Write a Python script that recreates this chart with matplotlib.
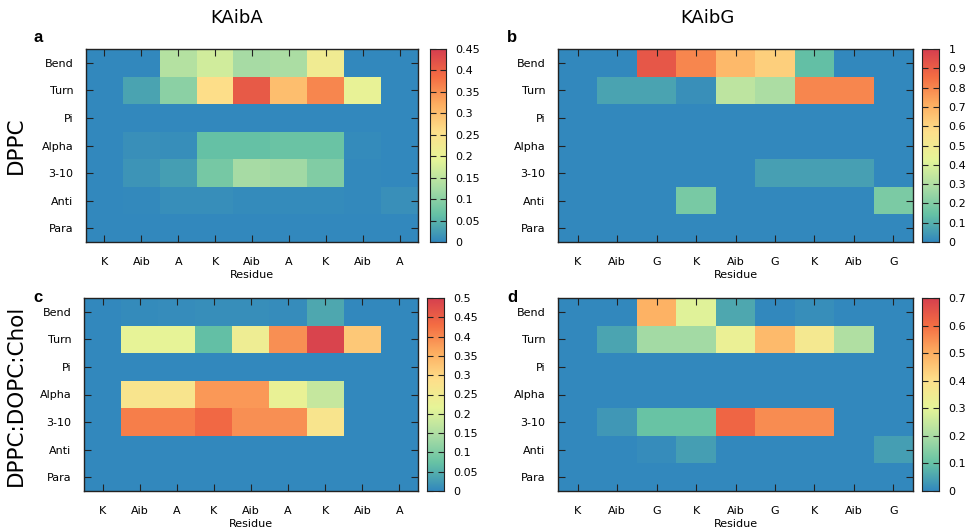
import numpy as np
import matplotlib
matplotlib.use("Agg")
import matplotlib.pyplot as plt
from matplotlib.colors import LinearSegmentedColormap

plt.rcParams["font.family"] = ["DejaVu Sans"]

# ── Data ──────────────────────────────────────────────────────────────────────
states = ["Bend", "Turn", "Pi", "Alpha", "3-10", "Anti", "Para"]
res_kaiba = ["K", "Aib", "A", "K", "Aib", "A", "K", "Aib", "A"]
res_kaibg = ["K", "Aib", "G", "K", "Aib", "G", "K", "Aib", "G"]

# a: KAibA in DPPC
dppc_kaiba = [
    [0.0, 0.0, 0.14, 0.17, 0.125, 0.13, 0.22, 0.0, 0.0],
    [0.0, 0.03, 0.10, 0.26, 0.41, 0.30, 0.36, 0.20, 0.0],
    [0.0, 0.0, 0.0, 0.0, 0.0, 0.0, 0.0, 0.0, 0.0],
    [0.0, 0.01, 0.008, 0.065, 0.065, 0.07, 0.07, 0.005, 0.0],
    [0.0, 0.015, 0.025, 0.08, 0.125, 0.12, 0.09, 0.003, 0.0],
    [0.0, 0.002, 0.008, 0.008, 0.005, 0.005, 0.005, 0.002, 0.01],
    [0.0, 0.0, 0.0, 0.0, 0.0, 0.0, 0.0, 0.0, 0.0],
]
# b: KAibG in DPPC
dppc_kaibg = [
    [0.0, 0.0, 0.92, 0.80, 0.68, 0.62, 0.14, 0.0, 0.0],
    [0.0, 0.07, 0.07, 0.02, 0.33, 0.29, 0.80, 0.80, 0.0],
    [0.0, 0.0, 0.0, 0.0, 0.0, 0.0, 0.0, 0.0, 0.0],
    [0.0, 0.0, 0.0, 0.0, 0.0, 0.0, 0.0, 0.0, 0.0],
    [0.0, 0.0, 0.0, 0.0, 0.0, 0.06, 0.06, 0.06, 0.0],
    [0.0, 0.0, 0.0, 0.18, 0.0, 0.0, 0.0, 0.0, 0.19],
    [0.0, 0.0, 0.0, 0.0, 0.0, 0.0, 0.0, 0.0, 0.0],
]
# c: KAibA in DPPC:DOPC:Chol
mix_kaiba = [
    [0.0, 0.004, 0.006, 0.008, 0.008, 0.006, 0.04, 0.0, 0.0],
    [0.0, 0.22, 0.22, 0.07, 0.24, 0.39, 0.49, 0.32, 0.0],
    [0.0, 0.0, 0.0, 0.0, 0.0, 0.0, 0.0, 0.0, 0.0],
    [0.0, 0.27, 0.27, 0.38, 0.38, 0.225, 0.175, 0.0, 0.0],
    [0.0, 0.41, 0.41, 0.435, 0.39, 0.39, 0.27, 0.0, 0.0],
    [0.0, 0.0, 0.0, 0.0, 0.0, 0.0, 0.0, 0.0, 0.0],
    [0.0, 0.0, 0.0, 0.0, 0.0, 0.0, 0.0, 0.0, 0.0],
]
# d: KAibG in DPPC:DOPC:Chol
mix_kaibg = [
    [0.0, 0.0, 0.49, 0.29, 0.055, 0.0, 0.012, 0.0, 0.0],
    [0.0, 0.05, 0.19, 0.19, 0.32, 0.475, 0.36, 0.21, 0.0],
    [0.0, 0.0, 0.0, 0.0, 0.0, 0.0, 0.0, 0.0, 0.0],
    [0.0, 0.0, 0.0, 0.0, 0.0, 0.0, 0.0, 0.0, 0.0],
    [0.0, 0.03, 0.105, 0.105, 0.615, 0.55, 0.55, 0.0, 0.0],
    [0.0, 0.0, 0.01, 0.04, 0.0, 0.0, 0.0, 0.0, 0.04],
    [0.0, 0.0, 0.0, 0.0, 0.0, 0.0, 0.0, 0.0, 0.0],
]

cbar_max = {"a": 0.45, "b": 1.0, "c": 0.5, "d": 0.7}
cbar_step = {"a": 0.05, "b": 0.1, "c": 0.05, "d": 0.1}

# gnuplot-style spectral palette
cmap = LinearSegmentedColormap.from_list(
    "spec", ["#3288BD", "#66C2A5", "#ABDDA4", "#E6F598",
             "#FEE08B", "#FDAE61", "#F46D43", "#D53E4F"])

W, H = 967, 531
fig = plt.figure(figsize=(W / 100, H / 100), dpi=100)


def px_axes(x0, y0, x1, y1):
    return fig.add_axes([x0 / W, 1 - y1 / H, (x1 - x0) / W, (y1 - y0) / H])


def fmt(v):
    s = f"{v:.2f}".rstrip("0").rstrip(".")
    return s


def panel(key, data, residues, box, cbox):
    ax = px_axes(*box)
    arr = np.array(data)
    ax.imshow(arr, cmap=cmap, vmin=0, vmax=cbar_max[key], aspect="auto",
              interpolation="nearest",
              extent=(0.5, len(residues) + 0.5, len(states) - 0.5, -0.5))
    ax.set_xticks(np.arange(1, len(residues) + 1))
    ax.set_xticklabels(residues, fontsize=8)
    ax.set_yticks(np.arange(len(states)))
    ax.set_yticklabels(states, fontsize=8)
    ax.tick_params(direction="in", length=5, width=0.8, top=True, right=True,
                   color="#222222")
    ax.tick_params(axis="x", pad=11)
    ax.tick_params(axis="y", pad=9)
    for s in ax.spines.values():
        s.set_linewidth(1.0)
        s.set_color("#222222")
    ax.set_xlabel("Residue", fontsize=8, labelpad=2)

    cax = px_axes(*cbox)
    grad = np.linspace(0, cbar_max[key], 256).reshape(-1, 1)
    cax.imshow(grad, cmap=cmap, vmin=0, vmax=cbar_max[key], aspect="auto",
               origin="lower", extent=(0, 1, 0, cbar_max[key]))
    ticks = np.round(np.arange(0, cbar_max[key] + 1e-9, cbar_step[key]), 3)
    cax.set_yticks(ticks)
    cax.set_yticklabels([fmt(t) for t in ticks], fontsize=8)
    cax.set_xticks([])
    cax.yaxis.tick_right()
    cax.tick_params(axis="y", direction="in", length=4, width=0.8,
                    left=True, right=True, pad=7, color="#222222")
    for s in cax.spines.values():
        s.set_linewidth(0.8)
        s.set_color("#222222")
    return ax


panel("a", dppc_kaiba, res_kaiba, (86, 49, 418, 242), (430, 49, 446, 242))
panel("b", dppc_kaibg, res_kaibg, (558, 49, 913, 242), (922, 49, 939, 242))
panel("c", mix_kaiba, res_kaiba, (84, 298, 418, 491), (427, 298, 444, 491))
panel("d", mix_kaibg, res_kaibg, (558, 298, 913, 491), (922, 298, 939, 491))

# titles and panel letters
fig.text(237 / W, 1 - 18 / H, "KAibA", fontsize=13, ha="center", va="center")
fig.text(707 / W, 1 - 18 / H, "KAibG", fontsize=13, ha="center", va="center")
for letter, (x, y) in {"a": (38, 38), "b": (512, 38),
                       "c": (38, 297), "d": (512, 297)}.items():
    fig.text(x / W, 1 - y / H, letter, fontsize=12, fontweight="bold",
             ha="center", va="center", family="Liberation Sans")
fig.text(16 / W, 1 - 145 / H, "DPPC", fontsize=15.5, rotation=90,
         ha="center", va="center")
fig.text(16 / W, 1 - 395 / H, "DPPC:DOPC:Chol", fontsize=15.5, rotation=90,
         ha="center", va="center")

fig.savefig("out.png", dpi=100)
